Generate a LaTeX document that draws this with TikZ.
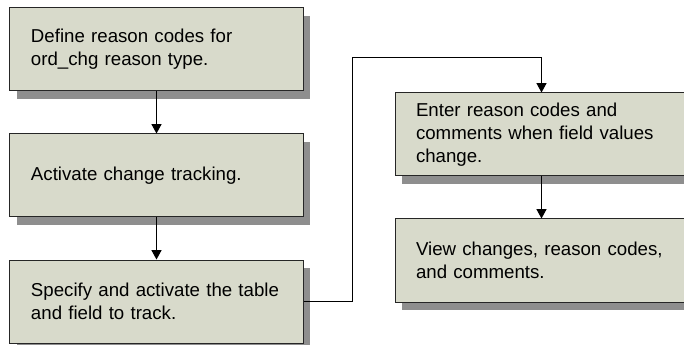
\documentclass[tikz,border=0pt]{standalone}
\usepackage{fontspec}
\setmainfont{Liberation Sans}
\usetikzlibrary{arrows.meta,positioning,shadows,calc}
\definecolor{boxfill}{RGB}{216,218,203}
\definecolor{boxshadow}{RGB}{142,142,142}

\begin{document}
\begin{tikzpicture}[
    >={Triangle[width=7.5pt,length=7pt]}, % filled arrow heads
    node distance=31.5pt,
    line width=0.75pt,
    % styles
    block/.style={
        draw=black!85,
        fill=boxfill,
        align=left,
        text width=188.25pt,
        inner xsep=15.75pt,
        inner ysep=0pt,
        minimum height=62.25pt,
        font=\fontsize{14pt}{17.25pt}\selectfont,
        drop shadow={shadow xshift=5.25pt, shadow yshift=-6pt, fill=boxshadow, opacity=1}
    }
]
    % page frame
    \useasboundingbox (-117.375pt,37.125pt) rectangle ++(513pt,-258.75pt);

    % --- 1. Left column ---
    \node[block] (define) at (0,0) {
        Define reason codes for\\
        ord\_chg reason type.
    };
    \node[block, below=of define] (activate) {Activate change tracking.};
    \node[block, below=of activate] (track) {
        Specify and activate the table\\
        and field to track.
    };

    % --- 2. Right column ---
    \node[block, right=68.25pt of define.north east, anchor=north west, yshift=-63.75pt] (enter) {
        Enter reason codes and\\
        comments when field values\\
        change.
    };
    \node[block, below=of enter] (view) {
        View changes, reason codes,\\
        and comments.
    };

    % --- 3. Arrows ---
    \draw[->] (define) -- (activate);
    \draw[->] (activate) -- (track);

    % over the top into the right column
    \coordinate (bend) at ($(track.east |- define.north)+(36.75pt,-37.5pt)$);
    \draw[->] (track.east) -| (bend) -| (enter.north);

    \draw[->] (enter) -- (view);

\end{tikzpicture}
\end{document}
